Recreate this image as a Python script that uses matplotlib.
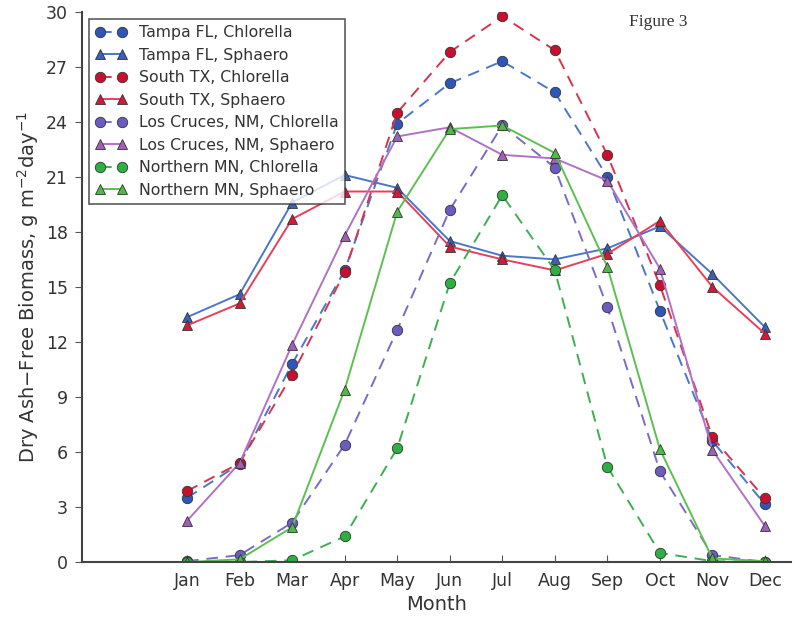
import matplotlib
matplotlib.use("Agg")
import matplotlib.pyplot as plt

months = ['Jan', 'Feb', 'Mar', 'Apr', 'May', 'Jun', 'Jul', 'Aug', 'Sep', 'Oct', 'Nov', 'Dec']

tampa_chl = [3.5, 5.35, 10.8, 15.9, 23.9, 26.1, 27.3, 25.6, 21.0, 13.7, 6.6, 3.15]
tampa_sph = [13.35, 14.6, 19.6, 21.1, 20.4, 17.5, 16.7, 16.5, 17.1, 18.3, 15.7, 12.8]
tx_chl = [3.87, 5.4, 10.2, 15.8, 24.5, 27.8, 29.75, 27.9, 22.2, 15.1, 6.8, 3.47]
tx_sph = [12.9, 14.1, 18.7, 20.2, 20.2, 17.2, 16.5, 15.9, 16.8, 18.6, 15.0, 12.45]
nm_chl = [0.05, 0.38, 2.15, 6.4, 12.65, 19.2, 23.8, 21.5, 13.9, 4.95, 0.38, 0.0]
nm_sph = [2.25, 5.4, 11.85, 17.8, 23.2, 23.7, 22.2, 22.0, 20.8, 16.0, 6.1, 1.96]
mn_chl = [0.0, 0.0, 0.1, 1.4, 6.2, 15.2, 20.0, 15.9, 5.2, 0.5, 0.05, 0.0]
mn_sph = [0.0, 0.15, 1.9, 9.4, 19.1, 23.6, 23.8, 22.3, 16.1, 6.15, 0.2, 0.05]

labels = ['Tampa FL, Chlorella', 'Tampa FL, Sphaero', 'South TX, Chlorella', 'South TX, Sphaero',
          'Los Cruces, NM, Chlorella', 'Los Cruces, NM, Sphaero', 'Northern MN, Chlorella', 'Northern MN, Sphaero']
series = [tampa_chl, tampa_sph, tx_chl, tx_sph, nm_chl, nm_sph, mn_chl, mn_sph]
line_colors = ['#4a78c8', '#4a78c8', '#d8344c', '#e8405a', '#7a6cc4', '#b072c4', '#3cb050', '#5cc050']
marker_colors = ['#2e56b8', '#3a60b8', '#c8102e', '#d41838', '#6a5cc0', '#a060b8', '#2cb040', '#50b848']

x = list(range(1, 13))

plt.rcParams['text.color'] = '#333333'
plt.rcParams['xtick.labelcolor'] = '#333333'
plt.rcParams['ytick.labelcolor'] = '#333333'

fig = plt.figure(figsize=(7.96, 6.17), dpi=100)
ax = fig.add_axes([0.103, 0.089, 0.891, 0.892])

for i in range(len(series)):
    if i % 2 == 0:
        ls, mk = '--', 'o'
    else:
        ls, mk = '-', '^'
    ax.plot(x, series[i], linestyle=ls, marker=mk, color=line_colors[i], markerfacecolor=marker_colors[i],
            markeredgecolor='#333333', markeredgewidth=0.6, markersize=7.5, linewidth=1.4,
            label=labels[i], dashes=(6, 4) if ls == '--' else (None, None))

ax.set_xlim(-1, 12.5)
ax.set_ylim(0, 30)
ax.set_xticks(x)
ax.set_xticklabels(months)
ax.set_yticks(range(0, 31, 3))
ax.tick_params(axis='x', direction='in', labelsize=12.5, length=5, pad=7, color='#555555')
ax.tick_params(axis='y', direction='out', labelsize=12.5, length=5, pad=5, color='#555555')
ax.set_xlabel('Month', fontsize=14, color='#333333')
ax.set_ylabel('Dry Ash$-$Free Biomass, g m$^{-2}$day$^{-1}$', fontsize=14, color='#333333')
ax.spines['top'].set_visible(False)
ax.spines['right'].set_visible(False)
for s in ['left', 'bottom']:
    ax.spines[s].set_color('#444444')
    ax.spines[s].set_linewidth(1.5)

leg = ax.legend(loc='upper left', numpoints=2, fontsize=11.3, fancybox=False,
                borderaxespad=0.45, handlelength=2.0, labelspacing=0.48)
leg.get_frame().set_edgecolor('#333333')
leg.get_frame().set_linewidth(1.2)

fig.text(0.79, 0.958, 'Figure 3', fontsize=12.5, family='Liberation Serif', color='#333333')

fig.savefig('out.png', dpi=100)
